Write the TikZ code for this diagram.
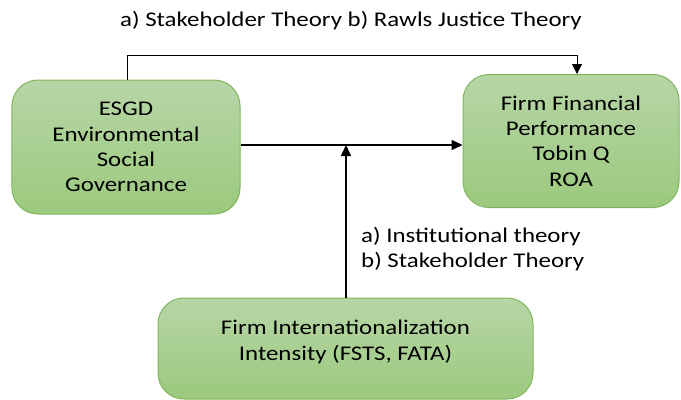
\documentclass[tikz,border=0pt]{standalone}
\usepackage{fontspec}
\setmainfont{Carlito}[FakeStretch=1.19]
\usetikzlibrary{arrows.meta}
\definecolor{boxtop}{RGB}{183,214,167}
\definecolor{boxbot}{RGB}{155,201,125}
\definecolor{boxline}{RGB}{128,182,92}
\begin{document}
\begin{tikzpicture}[x=1bp,y=-1bp,
  box/.style={draw=boxline, line width=1bp, rounded corners=26bp,
    top color=boxtop, bottom color=boxbot, inner sep=0pt,
    font=\fontsize{21}{25.5}\selectfont, align=center},
  lbl/.style={font=\fontsize{21}{25.5}\selectfont, inner sep=0pt},
  conn/.style={line width=1.6bp, -{Triangle[length=11bp,width=10bp]}}]
\useasboundingbox (0,0) rectangle (681,399);
% variable boxes
\node[box, minimum width=228bp, minimum height=134bp] (esg) at (126,147)
  {ESGD\\Environmental\\Social\\Governance};
\node[box, minimum width=216bp, minimum height=133bp] (ffp) at (571,141)
  {Firm Financial\\Performance\\Tobin Q\\ROA};
\node[box, minimum width=375bp, minimum height=101bp] (fii) at (345.5,348.5) {};
\node[lbl, align=center] (fiitext) at (345.5,342)
  {Firm Internationalization\\Intensity (FSTS, FATA)};
% theory labels
\node[lbl] (toplbl) at (351,21) {a) Stakeholder Theory b) Rawls Justice Theory};
\node[lbl, anchor=west, align=left] (modlbl) at (361,249)
  {a) Institutional theory\\b) Stakeholder Theory};
% connectors
\coordinate (hit) at (346,145);
\draw[conn] (esg.east |- hit) -- (ffp.west |- hit);
\draw[conn] (fii.north -| hit) -- (hit);
\draw[line width=1bp, -{Triangle[length=10bp,width=10bp]}]
  (esg.north -| 127,0) -- (127,55) -- (577,55) -- (ffp.north -| 577,0);
\end{tikzpicture}
\end{document}
